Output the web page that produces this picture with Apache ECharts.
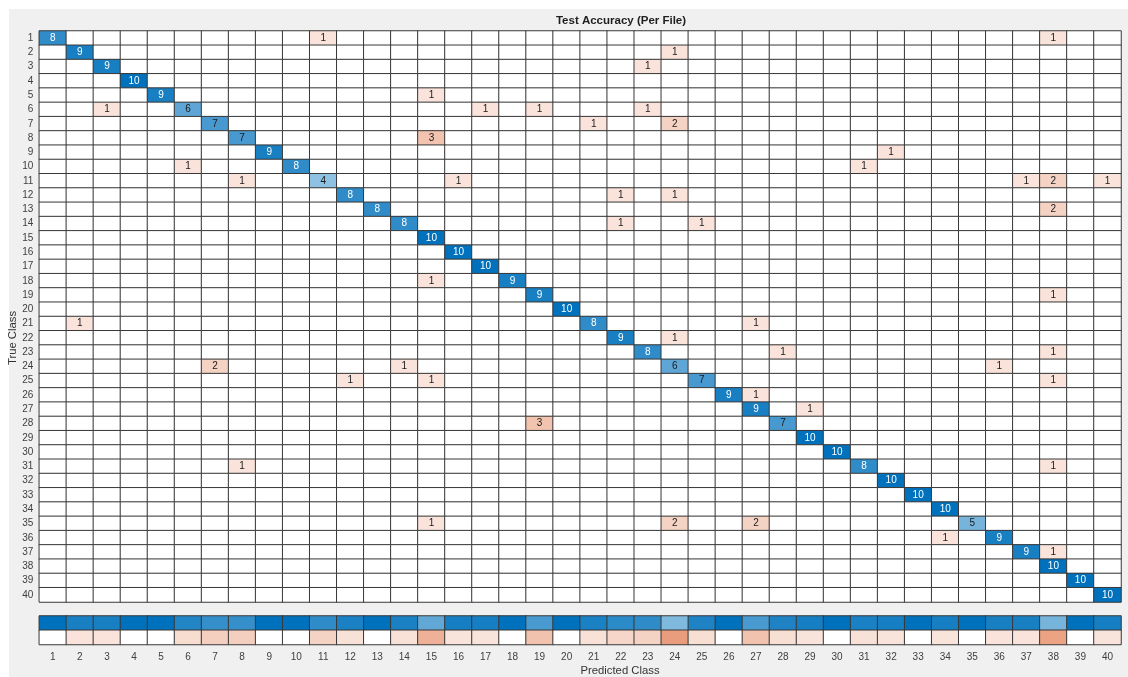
<!DOCTYPE html>
<html>
<head>
<meta charset="utf-8">
<title>Test Accuracy (Per File)</title>
<script src="https://cdn.jsdelivr.net/npm/echarts@6/dist/echarts.min.js"></script>
<style>
  html, body { margin: 0; padding: 0; background: #ffffff; }
  #chart { width: 1128px; height: 677px; }
</style>
</head>
<body>
<div id="chart"></div>
<script>
// Class labels (shared by both axes)
const classLabels = ['1','2','3','4','5','6','7','8','9','10','11','12','13','14','15','16','17','18','19','20',
  '21','22','23','24','25','26','27','28','29','30','31','32','33','34','35','36','37','38','39','40'];

// Correct predictions per true class (diagonal of the confusion matrix)
const correctCounts = [8, 9, 9, 10, 9, 6, 7, 7, 9, 8, 4, 8, 8, 8, 10, 10, 10, 9, 9, 10,
  8, 9, 8, 6, 7, 9, 9, 7, 10, 10, 8, 10, 10, 10, 5, 9, 9, 10, 10, 10];

// Misclassifications: [true class, predicted class, count]
const confusions = [
  [1, 11, 1], [1, 38, 1],
  [2, 24, 1],
  [3, 23, 1],
  [5, 15, 1],
  [6, 3, 1], [6, 17, 1], [6, 19, 1], [6, 23, 1],
  [7, 21, 1], [7, 24, 2],
  [8, 15, 3],
  [9, 32, 1],
  [10, 6, 1], [10, 31, 1],
  [11, 8, 1], [11, 16, 1], [11, 37, 1], [11, 38, 2], [11, 40, 1],
  [12, 22, 1], [12, 24, 1],
  [13, 38, 2],
  [14, 22, 1], [14, 25, 1],
  [18, 15, 1],
  [19, 38, 1],
  [21, 2, 1], [21, 27, 1],
  [22, 24, 1],
  [23, 28, 1], [23, 38, 1],
  [24, 7, 2], [24, 14, 1], [24, 36, 1],
  [25, 12, 1], [25, 15, 1], [25, 38, 1],
  [26, 27, 1],
  [27, 29, 1],
  [28, 19, 3],
  [31, 8, 1], [31, 38, 1],
  [35, 15, 1], [35, 24, 2], [35, 27, 2],
  [36, 34, 1],
  [37, 38, 1]
];

// ---- build the matrix ----
const n = classLabels.length;
const matrix = [];
for (let i = 0; i < n; i++) { matrix.push(new Array(n).fill(0)); matrix[i][i] = correctCounts[i]; }
confusions.forEach(([t, p, c]) => { matrix[t - 1][p - 1] += c; });
let maxCount = 0;
matrix.forEach(r => r.forEach(v => { if (v > maxCount) maxCount = v; }));

const BLUE = [0, 114, 189];
const ORANGE = [217, 83, 25];
// Any non-zero share gets a small base tint so single counts stay visible
function tint(base, share) {
  const a = 0.07 + 0.93 * share;
  const c = base.map(v => Math.round(255 - (255 - v) * a));
  return 'rgb(' + c.join(',') + ')';
}

const FONT = '"Liberation Sans", Arial, Helvetica, sans-serif';
const LINE = '#383838';

// Main cells
const cellData = [];
for (let t = 0; t < n; t++) {
  for (let p = 0; p < n; p++) {
    const v = matrix[t][p];
    const share = v / maxCount;
    const color = v === 0 ? '#ffffff' : tint(t === p ? BLUE : ORANGE, share);
    cellData.push({
      value: [p, t, v],
      itemStyle: { color: color },
      label: { show: v > 0, color: (t === p && share > 0.75) ? '#ffffff' : '#1a1a1a' }
    });
  }
}

// Column summary: precision (top) and false discovery rate (bottom)
const summaryData = [];
for (let p = 0; p < n; p++) {
  let total = 0;
  for (let t = 0; t < n; t++) total += matrix[t][p];
  const prec = total ? matrix[p][p] / total : 0;
  const fdr = total ? 1 - prec : 0;
  summaryData.push({ value: [p, 0, prec], itemStyle: { color: prec > 0 ? tint(BLUE, prec) : '#ffffff' } });
  summaryData.push({ value: [p, 1, fdr], itemStyle: { color: fdr > 0 ? tint(ORANGE, fdr) : '#ffffff' } });
}

const chart = echarts.init(document.getElementById('chart'), null, { renderer: 'canvas' });

const hiddenAxisParts = {
  axisLine: { show: false },
  axisTick: { show: false },
  splitLine: { show: false },
  splitArea: { show: false }
};

chart.setOption({
  backgroundColor: '#ffffff',
  animation: false,
  textStyle: { fontFamily: FONT },
  graphic: [
    { type: 'rect', z: -10, silent: true, shape: { x: 9, y: 9, width: 1119, height: 668 }, style: { fill: '#f0f0f0' } },
    { type: 'text', silent: true, style: { text: 'Test Accuracy (Per File)', x: 621, y: 21, textAlign: 'center', textVerticalAlign: 'middle', font: 'bold 11.5px ' + FONT, fill: '#1f1f1f' } },
    { type: 'text', silent: true, style: { text: 'Predicted Class', x: 620, y: 671, textAlign: 'center', textVerticalAlign: 'middle', font: '11.3px ' + FONT, fill: '#333333' } },
    { type: 'text', silent: true, rotation: Math.PI / 2, x: 13, y: 338, style: { text: 'True Class', x: 0, y: 0, textAlign: 'center', textVerticalAlign: 'middle', font: '11.3px ' + FONT, fill: '#333333' } }
  ],
  grid: [
    { left: 39.3, top: 31, width: 1081.7, height: 571 },
    { left: 39.3, top: 616, width: 1081.7, height: 28.5 }
  ],
  xAxis: [
    Object.assign({ type: 'category', gridIndex: 0, data: classLabels, axisLabel: { show: false } }, hiddenAxisParts),
    Object.assign({ type: 'category', gridIndex: 1, data: classLabels,
      axisLabel: { show: true, interval: 0, fontSize: 10, color: '#404040', margin: 8, fontFamily: FONT } }, hiddenAxisParts)
  ],
  yAxis: [
    Object.assign({ type: 'category', gridIndex: 0, data: classLabels, inverse: true,
      axisLabel: { show: true, interval: 0, fontSize: 10, color: '#404040', margin: 6, fontFamily: FONT } }, hiddenAxisParts),
    Object.assign({ type: 'category', gridIndex: 1, data: ['Precision', 'FDR'], inverse: true, axisLabel: { show: false } }, hiddenAxisParts)
  ],
  series: [
    {
      type: 'heatmap',
      xAxisIndex: 0, yAxisIndex: 0,
      data: cellData,
      itemStyle: { borderColor: LINE, borderWidth: 1 },
      label: {
        show: true, fontSize: 10, fontFamily: FONT,
        formatter: p => (p.value[2] > 0 ? String(p.value[2]) : '')
      },
      emphasis: { disabled: true }
    },
    {
      type: 'heatmap',
      xAxisIndex: 1, yAxisIndex: 1,
      data: summaryData,
      itemStyle: { borderColor: LINE, borderWidth: 1 },
      label: { show: false },
      emphasis: { disabled: true }
    }
  ]
});
</script>
</body>
</html>
